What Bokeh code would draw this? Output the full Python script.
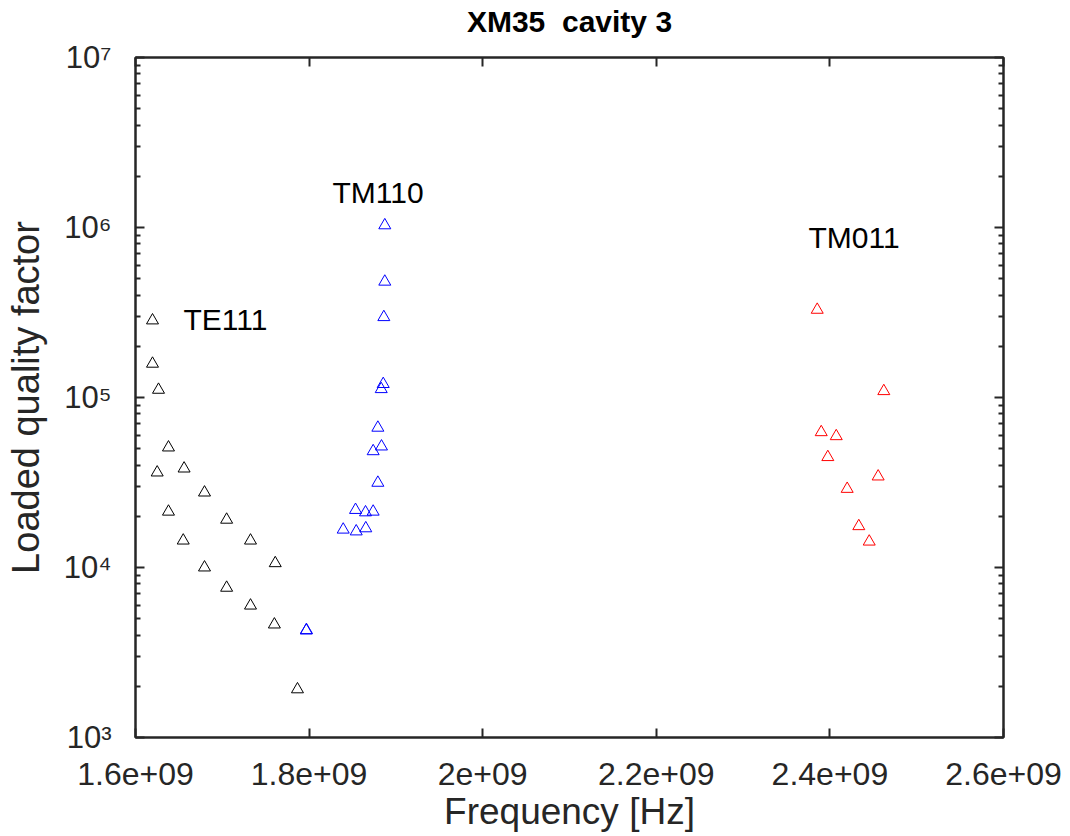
from bokeh.plotting import figure
from bokeh.models import FixedTicker, LinearAxis, LogAxis, ColumnDataSource, Range1d
from bokeh.core.properties import value
from bokeh.embed import file_html
from bokeh.resources import INLINE

# ---- data ----
te111_f = [1.6196e9, 1.6196e9, 1.6265e9, 1.6380e9, 1.6250e9, 1.6560e9, 1.6380e9, 1.6795e9, 1.6550e9,
           1.7050e9, 1.6795e9, 1.7325e9, 1.7050e9, 1.7610e9, 1.7325e9, 1.7600e9, 1.7866e9]
te111_q = [2.84e5, 1.58e5, 1.11e5, 5.08e4, 3.62e4, 3.82e4, 2.13e4, 2.76e4, 1.44e4,
           1.91e4, 1.00e4, 1.44e4, 7.60e3, 1.06e4, 5.97e3, 4.62e3, 1.92e3]

tm110_f = [1.8872e9, 1.8872e9, 1.8861e9, 1.8854e9, 1.8831e9, 1.8792e9, 1.8834e9, 1.8738e9, 1.8792e9,
           1.8535e9, 1.8650e9, 1.8738e9, 1.8393e9, 1.8543e9, 1.8653e9, 1.7967e9, 1.7970e9]
tm110_q = [1.03e6, 4.80e5, 2.97e5, 1.20e5, 1.12e5, 6.64e4, 5.15e4, 4.83e4, 3.15e4,
           2.18e4, 2.11e4, 2.13e4, 1.67e4, 1.63e4, 1.70e4, 4.26e3, 4.28e3]

tm011_f = [2.3854e9, 2.4621e9, 2.3900e9, 2.4073e9, 2.3976e9, 2.4556e9, 2.4199e9, 2.4333e9, 2.4453e9]
tm011_q = [3.28e5, 1.09e5, 6.25e4, 5.92e4, 4.46e4, 3.43e4, 2.90e4, 1.75e4, 1.42e4]

mode_names = ["TE111", "TM110", "TM011"]
mode_label_f = [1.6553e9, 1.8270e9, 2.3753e9]
mode_label_q = [2.88e5, 1.60e6, 8.72e5]

x_ticks = [1.6e9, 1.8e9, 2.0e9, 2.2e9, 2.4e9, 2.6e9]
x_tick_labels = ["1.6e+09", "1.8e+09", "2e+09", "2.2e+09", "2.4e+09", "2.6e+09"]
y_ticks = [1e3, 1e4, 1e5, 1e6, 1e7]
y_tick_labels = ["10\u00b3", "10\u2074", "10\u2075", "10\u2076", "10\u2077"]
y_minor = [m * t for t in y_ticks[:-1] for m in range(2, 10)]

title_text = "XM35\u00a0 cavity 3"
x_label = "Frequency [Hz]"
y_label = "Loaded quality factor"

FONT = "Liberation Sans"
AX = "#262626"

p = figure(width=1070, height=836, y_axis_type="log",
           x_range=Range1d(x_ticks[0], x_ticks[-1]), y_range=Range1d(y_ticks[0], y_ticks[-1]),
           output_backend="svg", toolbar_location=None,
           min_border_left=135, min_border_right=67, min_border_top=57, min_border_bottom=99)
p.background_fill_color = "white"
p.border_fill_color = "white"
p.outline_line_color = AX
p.outline_line_width = 2
p.xgrid.visible = False
p.ygrid.visible = False

xt = FixedTicker(ticks=x_ticks, minor_ticks=[])
yt = FixedTicker(ticks=y_ticks, minor_ticks=y_minor)

def style(ax):
    ax.axis_line_color = AX
    ax.axis_line_width = 2
    ax.major_tick_line_color = AX
    ax.major_tick_line_width = 2
    ax.minor_tick_line_color = AX
    ax.minor_tick_line_width = 2
    ax.major_tick_in = 9
    ax.major_tick_out = 0
    ax.minor_tick_in = 5
    ax.minor_tick_out = 0

# bottom x axis
xa = p.xaxis[0]
xa.ticker = xt
style(xa)
xa.major_label_overrides = dict(zip(x_ticks, x_tick_labels))
xa.major_label_text_font = FONT
xa.major_label_text_font_size = "32px"
xa.major_label_text_color = AX
xa.major_label_standoff = 25
xa.axis_label = x_label
xa.axis_label_text_font = FONT
xa.axis_label_text_font_size = "37px"
xa.axis_label_text_font_style = "normal"
xa.axis_label_text_color = AX
xa.axis_label_standoff = 3

# left y axis
ya = p.yaxis[0]
ya.ticker = yt
style(ya)
ya.major_label_overrides = dict(zip(y_ticks, y_tick_labels))
ya.major_label_text_font = FONT
ya.major_label_text_font_size = "31px"
ya.major_label_text_color = AX
ya.major_label_standoff = 24
ya.axis_label = y_label
ya.axis_label_text_font = FONT
ya.axis_label_text_font_size = "38px"
ya.axis_label_text_font_style = "normal"
ya.axis_label_text_color = AX
ya.axis_label_standoff = 14

# top axis: ticks only, carries the chart title as its label
top = LinearAxis(ticker=xt)
style(top)
top.major_label_overrides = {t: "" for t in x_ticks}
top.major_label_text_font_size = "0px"
top.major_label_standoff = 0
top.axis_label = title_text
top.axis_label_text_font = FONT
top.axis_label_text_font_size = "30px"
top.axis_label_text_font_style = "bold"
top.axis_label_text_color = "black"
top.axis_label_standoff = 20
p.add_layout(top, "above")

right = LogAxis(ticker=yt)
style(right)
right.major_label_overrides = {t: "" for t in y_ticks}
right.major_label_text_font_size = "0px"
right.major_label_standoff = 0
p.add_layout(right, "right")

# data
p.scatter(te111_f, te111_q, marker="triangle", size=12, fill_color=None, line_color="black", line_width=1)
p.scatter(tm110_f, tm110_q, marker="triangle", size=12, fill_color=None, line_color="#0000ff", line_width=1)
p.scatter(tm011_f, tm011_q, marker="triangle", size=12, fill_color=None, line_color="#ff0000", line_width=1)

src = ColumnDataSource(dict(x=mode_label_f, y=mode_label_q, t=mode_names))
p.text(x="x", y="y", text="t", source=src, text_font=value(FONT), text_font_size=value("30px"),
       text_align="left", text_baseline="alphabetic", text_color="black")

open("out.html", "w").write(file_html(p, INLINE))
